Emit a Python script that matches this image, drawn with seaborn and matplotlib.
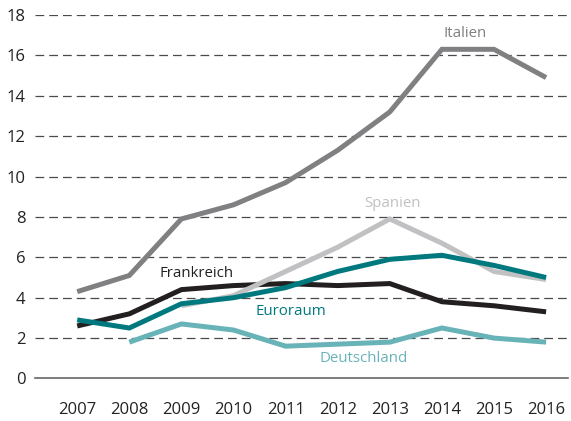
import numpy as np
import pandas as pd
import matplotlib
matplotlib.use("Agg")
import matplotlib.pyplot as plt
import seaborn as sns

years = [2007, 2008, 2009, 2010, 2011, 2012, 2013, 2014, 2015, 2016]
italien = [4.3, 5.1, 7.9, 8.6, 9.7, 11.3, 13.2, 16.3, 16.3, 14.9]
spanien = [np.nan, np.nan, 3.6, 4.1, 5.3, 6.5, 7.9, 6.7, 5.3, 4.9]
frankreich = [2.6, 3.2, 4.4, 4.6, 4.7, 4.6, 4.7, 3.8, 3.6, 3.3]
euroraum = [2.9, 2.5, 3.7, 4.0, 4.5, 5.3, 5.9, 6.1, 5.6, 5.0]
deutschland = [np.nan, 1.8, 2.7, 2.4, 1.6, 1.7, 1.8, 2.5, 2.0, 1.8]

series = ["Italien", "Frankreich", "Spanien", "Euroraum", "Deutschland"]
colors = {"Italien": "#808083", "Spanien": "#c1c1c3", "Frankreich": "#231f20",
          "Euroraum": "#00797e", "Deutschland": "#68b3b8"}
# label positions (year, value)
label_pos = {"Italien": (2014.45, 17.1), "Spanien": (2013.05, 8.65),
             "Frankreich": (2009.3, 5.2), "Euroraum": (2011.1, 3.3),
             "Deutschland": (2012.5, 1.0)}

values = {"Italien": italien, "Spanien": spanien, "Frankreich": frankreich,
          "Euroraum": euroraum, "Deutschland": deutschland}
rows = []
for name in series:
    for y, v in zip(years, values[name]):
        if not np.isnan(v):
            rows.append({"Jahr": y, "Wert": v, "Land": name})
df = pd.DataFrame(rows)

sns.set_style("white")
plt.rcParams["font.family"] = ["Open Sans", "DejaVu Sans"]

fig = plt.figure(figsize=(5.71, 4.21), dpi=100)
ax = fig.add_axes([0.0613, 0.101, 0.9334, 0.8634])

for y in range(2, 19, 2):
    ax.axhline(y, color="#4a4a4a", lw=0.9, ls=(0, (7, 4)), zorder=0)

sns.lineplot(data=df, x="Jahr", y="Wert", hue="Land", hue_order=series,
             palette=colors, lw=3.6, legend=False, ax=ax,
             solid_capstyle="butt", solid_joinstyle="miter")

for name in series:
    x, y = label_pos[name]
    ax.text(x, y, name, color=colors[name], fontsize=10.8, ha="center", va="center")

ax.set_xlim(2006.19, 2016.42)
ax.set_ylim(0, 18)
ax.set_xticks(years)
ax.set_yticks(range(0, 19, 2))
ax.set_xlabel("")
ax.set_ylabel("")
for s in ["top", "right", "left"]:
    ax.spines[s].set_visible(False)
ax.spines["bottom"].set_color("#666666")
ax.spines["bottom"].set_linewidth(1.2)
ax.tick_params(axis="x", direction="out", length=12, width=1, color="#555555",
               labelsize=12, labelcolor="#222222", pad=5)
ax.tick_params(axis="y", direction="in", length=11, width=0.9, color="#333333",
               labelsize=12, labelcolor="#222222", pad=7)

fig.savefig("out.png", dpi=100)
